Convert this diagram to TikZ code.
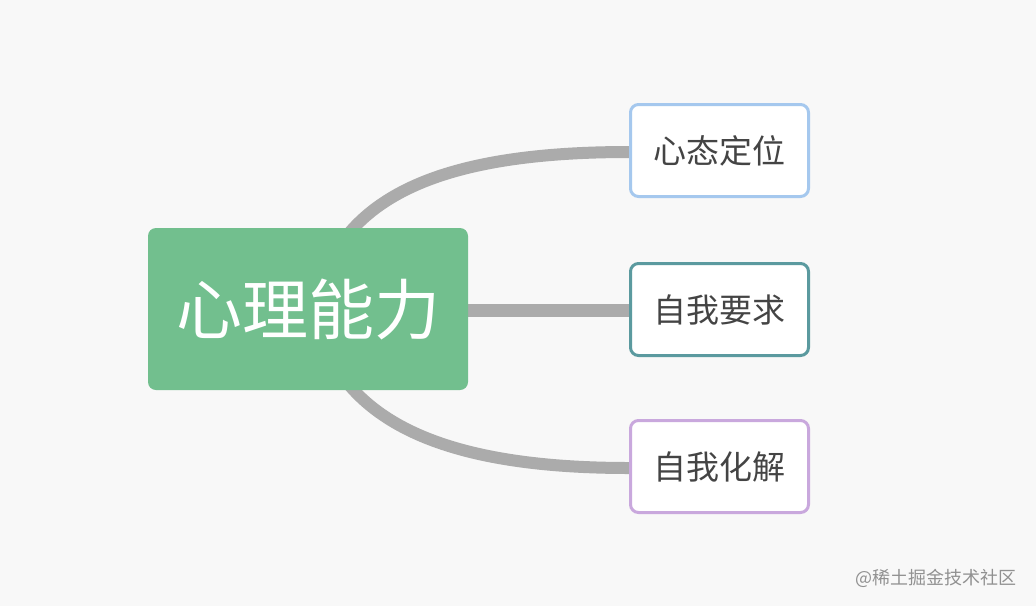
\documentclass[tikz,border=0pt]{standalone}
\usepackage{fontspec}
\newfontfamily\cjk{Noto Sans CJK SC}
\usetikzlibrary{backgrounds}
\definecolor{bg}{HTML}{F8F8F8}
\definecolor{rootgreen}{HTML}{72BF8E}
\definecolor{linkgray}{HTML}{ABABAB}
\definecolor{bblue}{HTML}{A5C8EE}
\definecolor{bteal}{HTML}{5B9A9F}
\definecolor{bpurple}{HTML}{C9A8DD}
\definecolor{txtgray}{HTML}{444444}
\tikzset{
  rootbox/.style={fill=rootgreen, rounded corners=8pt, minimum width=320pt, minimum height=162pt, inner sep=0pt, text=white, font=\cjk\fontsize{66}{66}\selectfont},
  leafbox/.style={draw=#1, line width=3pt, fill=white, rounded corners=8pt, minimum width=178pt, minimum height=92pt, inner sep=0pt, text=txtgray, font=\cjk\fontsize{33}{33}\selectfont},
  link/.style={draw=linkgray, line width=12pt},
}
\begin{document}
\begin{tikzpicture}[x=1pt,y=-1pt]
\useasboundingbox (0,0) rectangle (1036,606);
\node[rootbox] (root) at (308,309) {心理能力};
\node[leafbox=bblue] (a) at (719.5,150.5) {心态定位};
\node[leafbox=bteal] (b) at (719.5,309.5) {自我要求};
\node[leafbox=bpurple] (c) at (719.5,466.5) {自我化解};
\node[text=linkgray!85!black, font=\cjk\fontsize{18}{18}\selectfont, anchor=east] (wm) at (1020,578) {@稀土掘金技术社区};
\coordinate (rt) at (350,232);
\coordinate (rb) at (350,386);
\begin{pgfonlayer}{background}
\fill[bg] (0,0) rectangle (1036,606);
\draw[link] (rt) .. controls (395,180) and (480,152) .. (a.west |- 0,152);
\draw[link, line width=13pt] (root.east |- 0,310) -- (b.west |- 0,310);
\draw[link] (rb) .. controls (395,438) and (480,468) .. (c.west |- 0,468);
\end{pgfonlayer}
\end{tikzpicture}
\end{document}
